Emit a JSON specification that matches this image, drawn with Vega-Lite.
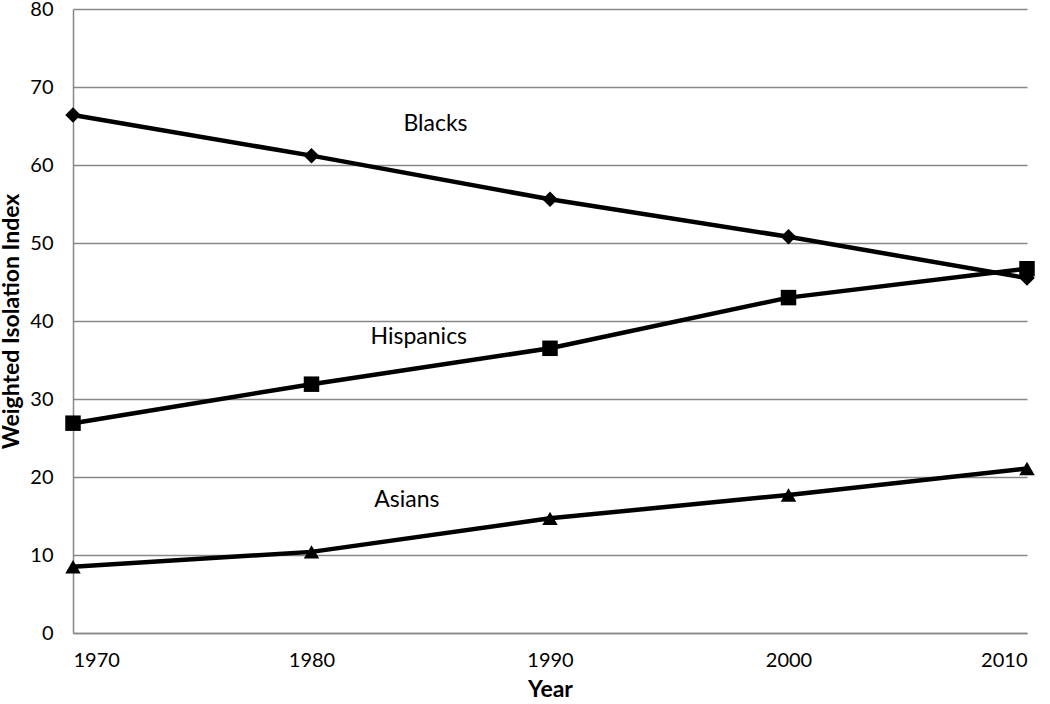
{
  "$schema": "https://vega.github.io/schema/vega-lite/v6.json",
  "width": 954,
  "height": 624,
  "autosize": {"type": "none"},
  "padding": {"left": 73, "top": 9, "right": 23, "bottom": 71},
  "background": "white",
  "config": {
    "view": {"stroke": null},
    "font": "Lato",
    "axis": {"labelFont": "Lato", "titleFont": "Lato", "labelColor": "black", "titleColor": "black"}
  },
  "datasets": {
    "series": [
      {"year": 1970, "value": 66.4, "group": "Blacks"},
      {"year": 1980, "value": 61.2, "group": "Blacks"},
      {"year": 1990, "value": 55.6, "group": "Blacks"},
      {"year": 2000, "value": 50.8, "group": "Blacks"},
      {"year": 2010, "value": 45.5, "group": "Blacks"},
      {"year": 1970, "value": 26.9, "group": "Hispanics"},
      {"year": 1980, "value": 31.9, "group": "Hispanics"},
      {"year": 1990, "value": 36.5, "group": "Hispanics"},
      {"year": 2000, "value": 43.0, "group": "Hispanics"},
      {"year": 2010, "value": 46.7, "group": "Hispanics"},
      {"year": 1970, "value": 8.5, "group": "Asians"},
      {"year": 1980, "value": 10.4, "group": "Asians"},
      {"year": 1990, "value": 14.7, "group": "Asians"},
      {"year": 2000, "value": 17.7, "group": "Asians"},
      {"year": 2010, "value": 21.1, "group": "Asians"}
    ],
    "labels": [
      {"year": 1985.2, "value": 65.3, "label": "Blacks"},
      {"year": 1984.5, "value": 37.9, "label": "Hispanics"},
      {"year": 1984.0, "value": 17.0, "label": "Asians"}
    ]
  },
  "layer": [
    {
      "data": {"name": "series"},
      "mark": {"type": "line", "color": "black", "strokeWidth": 4.5},
      "encoding": {
        "x": {
          "field": "year", "type": "quantitative",
          "scale": {"domain": [1970, 2010], "nice": false, "zero": false},
          "axis": {
            "values": [1970, 1980, 1990, 2000, 2010], "format": "d",
            "title": "Year", "titleFontSize": 23, "titleFontWeight": "bold", "titlePadding": 8,
            "labelFontSize": 20, "labelPadding": 17, "ticks": false, "grid": false,
            "domainColor": "#888888", "domainWidth": 1.5
          }
        },
        "y": {
          "field": "value", "type": "quantitative",
          "scale": {"domain": [0, 80], "nice": false},
          "axis": {
            "values": [0, 10, 20, 30, 40, 50, 60, 70, 80],
            "title": "Weighted Isolation Index", "titleFontSize": 23, "titleFontWeight": "bold", "titlePadding": 6,
            "labelFontSize": 20, "labelPadding": 20, "ticks": false,
            "grid": true, "gridColor": "#888888", "gridWidth": 1.5,
            "domainColor": "#888888", "domainWidth": 1.5
          }
        },
        "detail": {"field": "group"}
      }
    },
    {
      "data": {"name": "series"},
      "mark": {"type": "point", "filled": true, "color": "black", "opacity": 1, "size": 240},
      "encoding": {
        "x": {"field": "year", "type": "quantitative"},
        "y": {"field": "value", "type": "quantitative"},
        "shape": {
          "field": "group", "type": "nominal",
          "scale": {"domain": ["Blacks", "Hispanics", "Asians"], "range": ["diamond", "square", "triangle-up"]},
          "legend": null
        }
      }
    },
    {
      "data": {"name": "labels"},
      "mark": {"type": "text", "fontSize": 23, "font": "Lato", "color": "black"},
      "encoding": {
        "x": {"field": "year", "type": "quantitative"},
        "y": {"field": "value", "type": "quantitative"},
        "text": {"field": "label"}
      }
    }
  ]
}
